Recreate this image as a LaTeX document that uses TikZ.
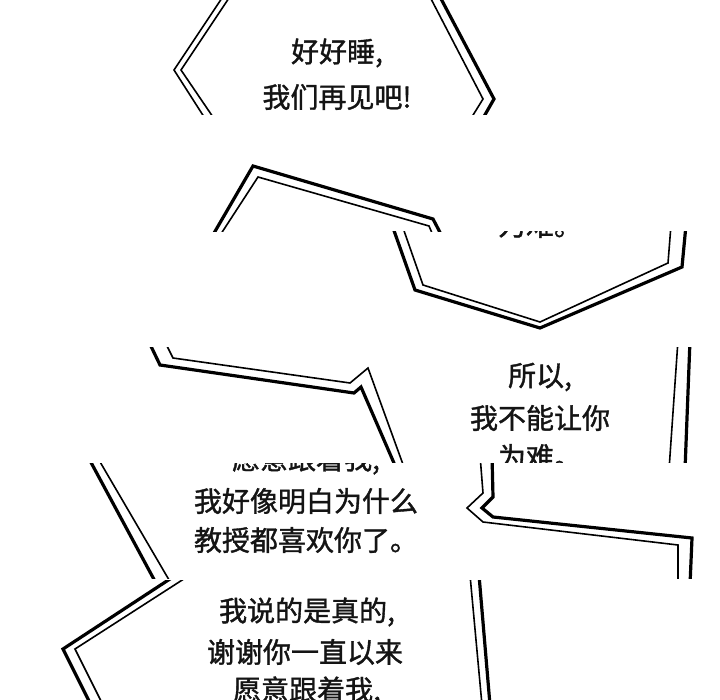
\documentclass[tikz,border=0pt]{standalone}
\usepackage{fontspec}
\newfontfamily\cjk[FakeBold=1.3]{Noto Sans CJK SC}
\begin{document}
\begin{tikzpicture}[x=1pt,y=-1pt,
  thickln/.style={line width=3.2pt, line join=miter, draw=black},
  thinln/.style={line width=1.6pt, line join=miter, draw=black},
  txt/.style={font=\cjk\fontsize{28}{28}\selectfont, text=black!92, inner sep=0pt, anchor=center}]
\useasboundingbox (0,0) rectangle (720,700);
\fill[white] (0,0) rectangle (720,700);

% ---- strip 1
\begin{scope}
\clip (0,0) rectangle (720,115);
\draw[thinln] (224,-5) -- (174,70) -- (206,120);
\draw[thinln] (231,-5) -- (181,70) -- (215,120);
\draw[thickln] (439,-5) -- (494,99) -- (482,120);
\draw[thinln] (429,-5) -- (483,99) -- (470,120);
\node[txt] (t1a) at (337,53) {好好睡,};
\node[txt] (t1b) at (337,97) {我们再见吧!};
\end{scope}

% ---- strip 2
\begin{scope}
\clip (0,115) rectangle (720,232);
\draw[thickln] (210,240) -- (253,166) -- (433,219) -- (444,240);
\draw[thinln] (217,240) -- (258,177) -- (429,226) -- (435,240);
\end{scope}

% ---- strip 3
\begin{scope}
\clip (0,232) rectangle (720,347);
\draw[thickln] (392,225) -- (415,290) -- (540,328) -- (682,267) -- (686,225);
\draw[thinln] (402,225) -- (423,285) -- (540,322) -- (668,263) -- (671,225);
\node[txt] (t3a) at (540,225) {为难。};
\end{scope}

% ---- strip 4
\begin{scope}
\clip (0,348) rectangle (720,462);
\draw[thickln] (148,340) -- (160,365) -- (354,393) -- (361,387) -- (397,470);
\draw[thinln] (164,340) -- (173,358) -- (350,383) -- (368,368) -- (405,470);
\draw[thinln] (678,340) -- (669,470);
\draw[thickln] (690,340) -- (685,470);
\node[txt] (t4a) at (540,377) {所以,};
\node[txt] (t4b) at (540,418) {我不能让你};
\node[txt] (t4c) at (540,457) {为难。};
\end{scope}

% ---- strip 5
\begin{scope}
\clip (0,463) rectangle (720,578);
\draw[thickln] (87,455) -- (157,585);
\draw[thinln] (96,455) -- (172,585);
\draw[thinln] (480,455) -- (483,493) -- (467,508) -- (483,522) -- (678,545) -- (678,585);
\draw[thickln] (492,455) -- (493,497) -- (482,508) -- (493,517) -- (692,538) -- (690,585);
\node[txt] (t5a) at (306,460) {愿意跟着我,};
\node[txt] (t5b) at (306,501) {我好像明白为什么};
\node[txt] (t5c) at (306,540) {教授都喜欢你了。};
\end{scope}

% ---- strip 6
\begin{scope}
\clip (0,580) rectangle (720,700);
\draw[thickln] (176,575) -- (63,649) -- (91,705);
\draw[thinln] (190,575) -- (75,649) -- (103,705);
\draw[thinln] (470,575) -- (482,705);
\draw[thickln] (479,575) -- (490,705);
\node[txt] (t6a) at (307,612) {我说的是真的,};
\node[txt] (t6b) at (305,652) {谢谢你一直以来};
\node[txt] (t6c) at (307,691) {愿意跟着我,};
\end{scope}
\end{tikzpicture}
\end{document}
